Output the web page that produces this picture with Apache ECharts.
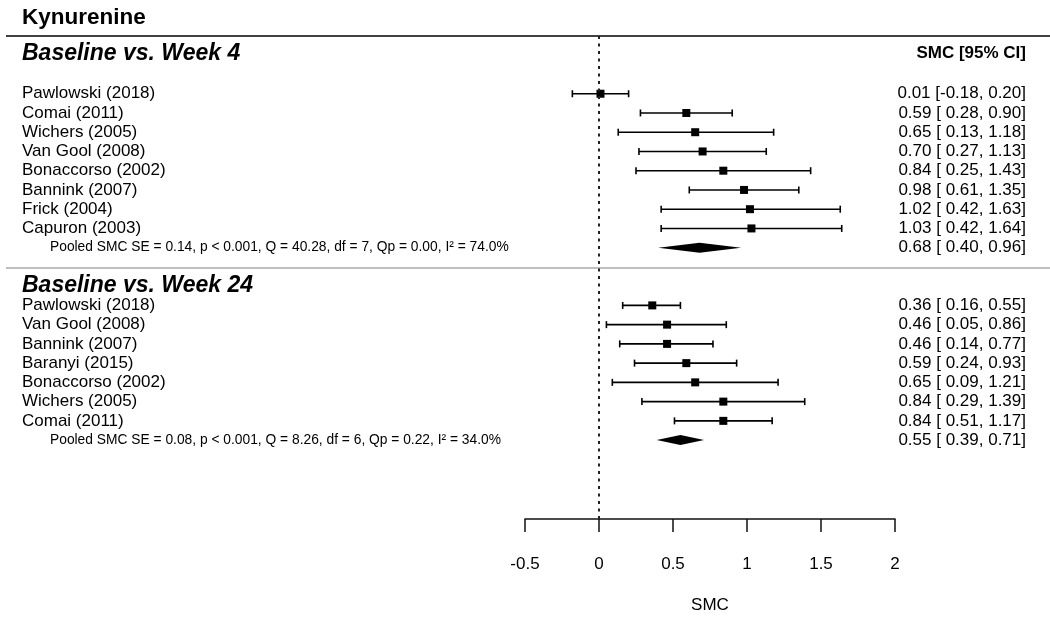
<!DOCTYPE html>
<html>
<head>
<meta charset="utf-8">
<script src="https://cdn.jsdelivr.net/npm/echarts@6/dist/echarts.min.js"></script>
<style>html,body{margin:0;padding:0;background:#fff}#chart{width:1050px;height:619px}</style>
</head>
<body>
<div id="chart"></div>
<script>
// ---- Data ----
const chartTitle = 'Kynurenine';
const headerWeek4 = 'Baseline vs. Week 4';
const headerWeek24 = 'Baseline vs. Week 24';
const ciHeader = 'SMC [95% CI]';

const w4Studies = ['Pawlowski (2018)', 'Comai (2011)', 'Wichers (2005)', 'Van Gool (2008)', 'Bonaccorso (2002)', 'Bannink (2007)', 'Frick (2004)', 'Capuron (2003)'];
const w4Est = [0.01, 0.59, 0.65, 0.70, 0.84, 0.98, 1.02, 1.03];
const w4Lo  = [-0.18, 0.28, 0.13, 0.27, 0.25, 0.61, 0.42, 0.42];
const w4Hi  = [0.20, 0.90, 1.18, 1.13, 1.43, 1.35, 1.63, 1.64];
const w4Pooled = [0.68, 0.40, 0.96]; // est, lo, hi
const w4Stats = 'Pooled SMC SE = 0.14, p < 0.001, Q = 40.28, df = 7, Qp = 0.00, I\u00B2 = 74.0%';

const w24Studies = ['Pawlowski (2018)', 'Van Gool (2008)', 'Bannink (2007)', 'Baranyi (2015)', 'Bonaccorso (2002)', 'Wichers (2005)', 'Comai (2011)'];
const w24Est = [0.36, 0.46, 0.46, 0.59, 0.65, 0.84, 0.84];
const w24Lo  = [0.16, 0.05, 0.14, 0.24, 0.09, 0.29, 0.51];
const w24Hi  = [0.55, 0.86, 0.77, 0.93, 1.21, 1.39, 1.17];
const w24Pooled = [0.55, 0.39, 0.71];
const w24Stats = 'Pooled SMC SE = 0.08, p < 0.001, Q = 8.26, df = 6, Qp = 0.22, I\u00B2 = 34.0%';

const xTicks = [-0.5, 0, 0.5, 1, 1.5, 2];
const xName = 'SMC';

// ---- Layout (row units) ----
const w4Start = 0, w24Start = 11;
const w4HeaderRow = -2.1, w24HeaderRow = 9.95;
const FONT = "'Liberation Sans', Arial, Helvetica, sans-serif";

function fmt(v) { return v.toFixed(2); }
function padLo(v) { return v < 0 ? v.toFixed(2) : ' ' + v.toFixed(2); }
function ciText(e, l, h) { return fmt(e) + ' [' + padLo(l) + ', ' + fmt(h) + ']'; }

// study rows
const studyRows = [];
w4Studies.forEach((s, i) => studyRows.push([w4Est[i], w4Lo[i], w4Hi[i], w4Start + i]));
w24Studies.forEach((s, i) => studyRows.push([w24Est[i], w24Lo[i], w24Hi[i], w24Start + i]));
const pooledRows = [
  [w4Pooled[0], w4Pooled[1], w4Pooled[2], w4Start + w4Studies.length],
  [w24Pooled[0], w24Pooled[1], w24Pooled[2], w24Start + w24Studies.length]
];

// text entries
const texts = [];
w4Studies.forEach((s, i) => {
  texts.push({ t: s, row: w4Start + i, kind: 'left' });
  texts.push({ t: ciText(w4Est[i], w4Lo[i], w4Hi[i]), row: w4Start + i, kind: 'right' });
});
w24Studies.forEach((s, i) => {
  texts.push({ t: s, row: w24Start + i, kind: 'left' });
  texts.push({ t: ciText(w24Est[i], w24Lo[i], w24Hi[i]), row: w24Start + i, kind: 'right' });
});
texts.push({ t: w4Stats, row: pooledRows[0][3], kind: 'stats' });
texts.push({ t: ciText(w4Pooled[0], w4Pooled[1], w4Pooled[2]), row: pooledRows[0][3], kind: 'right' });
texts.push({ t: w24Stats, row: pooledRows[1][3], kind: 'stats' });
texts.push({ t: ciText(w24Pooled[0], w24Pooled[1], w24Pooled[2]), row: pooledRows[1][3], kind: 'right' });
texts.push({ t: headerWeek4, row: w4HeaderRow, kind: 'header' });
texts.push({ t: headerWeek24, row: w24HeaderRow, kind: 'header' });
texts.push({ t: ciHeader, row: w4HeaderRow, kind: 'ciheader' });

const chart = echarts.init(document.getElementById('chart'), null, { renderer: 'canvas' });

const LEFT_X = 22, STATS_X = 50, RIGHT_X = 1026;

const option = {
  animation: false,
  backgroundColor: '#fff',
  title: {
    text: chartTitle, left: 22, top: 6, padding: 0,
    textStyle: { fontFamily: FONT, fontSize: 22.5, fontWeight: 'bold', color: '#000' }
  },
  grid: { left: 525, right: 155, top: 36, bottom: 98, containLabel: false },
  xAxis: {
    type: 'value', min: -0.5, max: 2, interval: 0.5,
    position: 'bottom',
    name: xName, nameLocation: 'middle', nameGap: 78,
    nameTextStyle: { fontFamily: FONT, fontSize: 17, color: '#000' },
    axisLine: { show: true, onZero: false, lineStyle: { color: '#111', width: 1.5 } },
    axisTick: { show: true, length: 13, lineStyle: { color: '#111', width: 1.5 } },
    axisLabel: {
      margin: 37, fontFamily: FONT, fontSize: 17, color: '#000',
      formatter: v => String(v)
    },
    splitLine: { show: false }
  },
  yAxis: {
    type: 'value', inverse: true, min: -3, max: 22.1, show: false
  },
  graphic: [
    { type: 'line', shape: { x1: 6, y1: 36, x2: 1050, y2: 36 }, style: { stroke: '#000', lineWidth: 1.5 } },
    { type: 'line', shape: { x1: 6, y1: 268, x2: 1050, y2: 268 }, style: { stroke: '#aaa', lineWidth: 1.5 } }
  ],
  series: [
    {
      type: 'custom', name: 'studies', clip: false,
      data: studyRows,
      encode: { x: [0, 1, 2], y: 3 },
      renderItem: function (params, api) {
        const row = api.value(3);
        const p = api.coord([api.value(0), row]);
        const l = api.coord([api.value(1), row]);
        const h = api.coord([api.value(2), row]);
        const ls = { stroke: '#000', lineWidth: 1.6 };
        return {
          type: 'group', children: [
            { type: 'line', shape: { x1: l[0], y1: p[1], x2: h[0], y2: p[1] }, style: ls },
            { type: 'line', shape: { x1: l[0], y1: p[1] - 3.5, x2: l[0], y2: p[1] + 3.5 }, style: ls },
            { type: 'line', shape: { x1: h[0], y1: p[1] - 3.5, x2: h[0], y2: p[1] + 3.5 }, style: ls },
            { type: 'rect', shape: { x: p[0] - 4, y: p[1] - 4, width: 8, height: 8 }, style: { fill: '#000' } }
          ]
        };
      },
      markLine: {
        silent: true, symbol: 'none', label: { show: false },
        lineStyle: { color: '#222', width: 2, type: [3, 4.5] },
        data: [{ xAxis: 0 }]
      }
    },
    {
      type: 'custom', name: 'pooled', clip: false,
      data: pooledRows,
      encode: { x: [0, 1, 2], y: 3 },
      renderItem: function (params, api) {
        const row = api.value(3);
        const p = api.coord([api.value(0), row]);
        const l = api.coord([api.value(1), row]);
        const h = api.coord([api.value(2), row]);
        return {
          type: 'polygon',
          shape: { points: [[l[0], p[1]], [p[0], p[1] - 5], [h[0], p[1]], [p[0], p[1] + 5]] },
          style: { fill: '#000' }
        };
      }
    },
    {
      type: 'custom', name: 'texts', clip: false, silent: true,
      data: texts.map(d => [0, d.row]),
      encode: { x: 0, y: 1 },
      renderItem: function (params, api) {
        const d = texts[params.dataIndex];
        const y = api.coord([0, api.value(1)])[1];
        let x = LEFT_X, align = 'left', size = 17, weight = 'normal', style = 'normal';
        if (d.kind === 'right') { x = RIGHT_X; align = 'right'; }
        else if (d.kind === 'stats') { x = STATS_X; size = 13.8; }
        else if (d.kind === 'header') { size = 23; weight = 'bold'; style = 'italic'; }
        else if (d.kind === 'ciheader') { x = RIGHT_X; align = 'right'; weight = 'bold'; }
        return {
          type: 'text', x: x, y: y,
          style: {
            text: d.t, textAlign: align, textVerticalAlign: 'middle',
            font: style + ' ' + weight + ' ' + size + 'px ' + FONT,
            fill: '#000'
          }
        };
      }
    }
  ]
};
chart.setOption(option);
</script>
</body>
</html>
